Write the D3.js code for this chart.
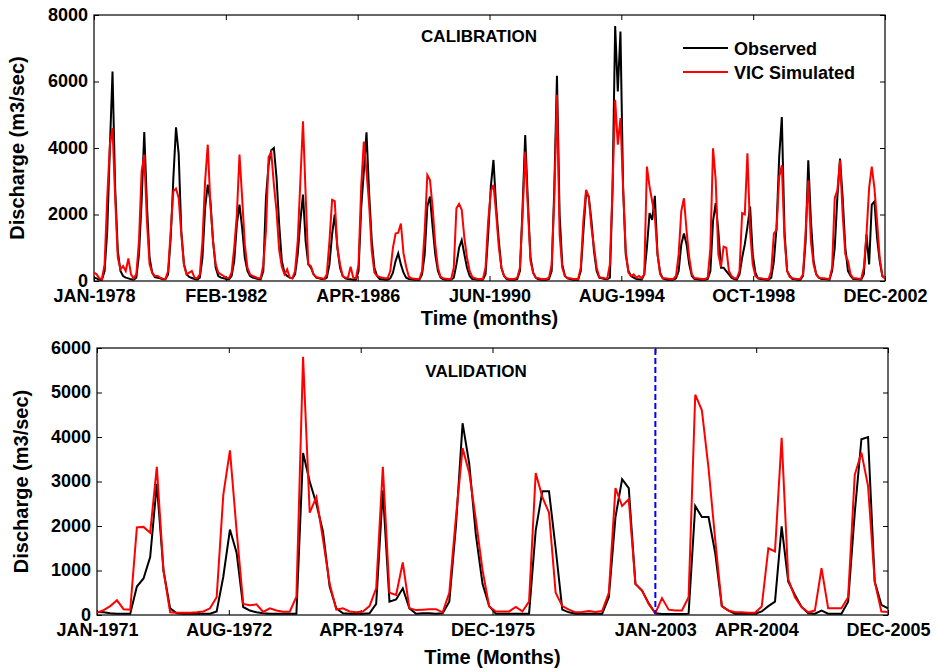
<!DOCTYPE html>
<html>
<head>
<meta charset="utf-8">
<script src="https://cdn.jsdelivr.net/npm/d3@7"></script>
<style>
  body { margin: 0; background: #fff; }
  svg text { font-family: Arial, "Liberation Sans", sans-serif; font-weight: bold; fill: #000; }
</style>
</head>
<body>
<svg id="chart" width="938" height="672"></svg>
<script>
// ---- calibration period, monthly values JAN-1978 .. DEC-2002 (m3/sec) ----
const calObserved = [
  100, 80, 40, 40, 300, 1500, 4000, 6300, 2800, 900, 300, 150,      // 1978
  100, 80, 50, 40, 100, 800, 2400, 4480, 2300, 700, 250, 120,       // 1979
  100, 80, 50, 50, 200, 1300, 3100, 4620, 3830, 1500, 500, 200,     // 1980
  120, 90, 60, 40, 100, 700, 2200, 2900, 2400, 1200, 400, 150,      // 1981
  100, 80, 60, 50, 150, 600, 1700, 2300, 1600, 700, 300, 150,       // 1982
  100, 80, 60, 50, 300, 2500, 3500, 3930, 4000, 3100, 1700, 600,    // 1983
  250, 150, 100, 80, 200, 800, 1800, 2600, 1200, 500, 400, 200,     // 1984
  100, 80, 60, 50, 100, 500, 1400, 2000, 1000, 400, 150, 80,        // 1985
  60, 50, 40, 40, 300, 2200, 3300, 4470, 2640, 1200, 400, 150,      // 1986
  60, 50, 40, 40, 80, 250, 600, 830, 500, 250, 100, 60,             // 1987
  50, 40, 40, 40, 200, 800, 2240, 2540, 1630, 800, 300, 100,        // 1988
  50, 40, 40, 40, 100, 500, 1000, 1230, 800, 400, 150, 60,          // 1989
  50, 40, 40, 40, 200, 1400, 2840, 3640, 2240, 1230, 400, 150,      // 1990
  60, 40, 40, 40, 60, 300, 2200, 4390, 2400, 700, 250, 100,         // 1991
  50, 40, 40, 40, 60, 300, 2800, 6170, 2000, 500, 150, 80,          // 1992
  60, 40, 40, 40, 300, 1500, 2640, 2540, 1840, 900, 300, 100,       // 1993
  80, 60, 50, 100, 2700, 7670, 5700, 7500, 2800, 800, 300, 150,     // 1994
  100, 60, 50, 40, 200, 1000, 2040, 1840, 2560, 800, 250, 80,       // 1995
  50, 40, 40, 40, 80, 300, 1100, 1430, 1100, 500, 150, 60,          // 1996
  50, 40, 40, 40, 60, 300, 1800, 2340, 1500, 400, 400, 300,         // 1997
  200, 100, 60, 40, 200, 700, 1100, 1630, 2240, 800, 250, 80,       // 1998
  60, 50, 40, 40, 100, 600, 1600, 3730, 4930, 1500, 300, 150,       // 1999
  60, 50, 40, 40, 150, 1200, 3630, 1800, 600, 200, 100, 60,         // 2000
  60, 50, 40, 300, 1000, 2530, 3680, 2500, 1000, 300, 150, 60,      // 2001
  60, 50, 40, 200, 1400, 500, 2300, 2390, 1300, 600, 150, 80        // 2002
];
const calSimulated = [
  250, 200, 80, 60, 500, 2500, 4100, 4600, 2500, 700, 350, 450,     // 1978
  300, 680, 200, 80, 200, 1200, 3300, 3800, 1800, 500, 250, 150,    // 1979
  150, 100, 70, 60, 300, 1500, 2700, 2780, 2500, 1400, 500, 200,    // 1980
  250, 300, 100, 80, 200, 1200, 3000, 4100, 2300, 1200, 500, 250,   // 1981
  200, 150, 100, 80, 250, 1000, 2000, 3800, 2500, 1100, 400, 200,   // 1982
  150, 120, 80, 80, 500, 1500, 3730, 3870, 2900, 2100, 930, 430,    // 1983
  200, 350, 100, 80, 300, 1200, 3000, 4800, 2600, 500, 450, 200,    // 1984
  120, 100, 80, 60, 200, 1200, 2440, 2400, 1000, 500, 150, 100,     // 1985
  100, 430, 100, 80, 500, 2840, 4190, 3300, 2300, 900, 250, 150,    // 1986
  120, 100, 80, 80, 300, 1000, 1430, 1450, 1730, 830, 430, 130,     // 1987
  80, 70, 60, 60, 300, 1500, 3190, 3040, 2200, 1100, 400, 130,      // 1988
  80, 70, 60, 60, 400, 2190, 2320, 2140, 1300, 700, 300, 120,       // 1989
  80, 60, 60, 60, 400, 1800, 2700, 2890, 2040, 1030, 400, 150,      // 1990
  80, 60, 60, 60, 100, 400, 2000, 3890, 2200, 600, 250, 100,        // 1991
  80, 60, 60, 60, 100, 500, 2500, 5600, 1400, 400, 150, 80,         // 1992
  80, 60, 60, 60, 400, 1840, 2740, 2540, 1630, 1030, 400, 120,      // 1993
  100, 80, 70, 500, 2800, 5450, 4100, 4900, 2800, 900, 250, 150,    // 1994
  200, 100, 150, 80, 200, 3440, 2840, 2400, 1940, 830, 200, 80,     // 1995
  80, 70, 60, 60, 150, 800, 2100, 2490, 1500, 700, 200, 80,         // 1996
  80, 70, 60, 60, 100, 1000, 3990, 3040, 800, 430, 1030, 1000,      // 1997
  300, 150, 80, 80, 300, 2040, 2000, 3840, 1500, 500, 150, 80,      // 1998
  80, 70, 60, 60, 300, 1430, 1530, 3130, 3480, 1300, 300, 120,      // 1999
  80, 70, 60, 60, 200, 1500, 3030, 1200, 500, 200, 100, 80,         // 2000
  80, 70, 60, 400, 2500, 2730, 3630, 2000, 800, 600, 200, 80,       // 2001
  80, 70, 60, 400, 1400, 2800, 3440, 2800, 1800, 700, 150, 80       // 2002
];
const calTickMonths = [1, 50.83, 100.67, 150.5, 200.33, 250.17, 300];
const calTickLabels = ["JAN-1978", "FEB-1982", "APR-1986", "JUN-1990", "AUG-1994", "OCT-1998", "DEC-2002"];
const calYTicks = [0, 2000, 4000, 6000, 8000];

// ---- validation period: 1971-1977 then 2003-2005, monthly ----
const valObserved = [
  70, 60, 40, 30, 30, 30, 640, 820, 1300, 2950, 1000, 150,          // 1971
  40, 30, 30, 30, 30, 30, 80, 860, 1920, 1400, 180, 100,            // 1972
  60, 40, 30, 30, 30, 30, 30, 3640, 3000, 2500, 1870, 640,          // 1973
  150, 40, 30, 30, 30, 40, 250, 2800, 300, 350, 600, 150,           // 1974
  30, 40, 40, 30, 40, 300, 2000, 4310, 3400, 1800, 700, 200,        // 1975
  30, 30, 30, 30, 30, 30, 1900, 2780, 2780, 1500, 120, 60,          // 1976
  30, 30, 30, 30, 30, 400, 2200, 3050, 2850, 700, 550, 260,         // 1977
  40, 20, 20, 20, 20, 30, 2450, 2200, 2200, 1400, 200, 100,         // 2003
  30, 30, 30, 30, 80, 200, 300, 1990, 750, 450, 180, 40,            // 2004
  30, 100, 30, 30, 30, 300, 2300, 3950, 4000, 750, 230, 150         // 2005
];
const valSimulated = [
  50, 110, 200, 330, 130, 120, 1970, 1980, 1850, 3330, 1000, 60,    // 1971
  50, 50, 50, 60, 80, 150, 400, 2700, 3700, 1900, 250, 220,         // 1972
  240, 70, 150, 100, 75, 75, 410, 5800, 2300, 2650, 1700, 700,      // 1973
  120, 150, 80, 60, 80, 200, 600, 3330, 500, 450, 1180, 150,        // 1974
  110, 120, 130, 130, 60, 500, 2200, 3750, 3190, 2140, 1010, 190,   // 1975
  80, 80, 80, 180, 80, 300, 3190, 2650, 2300, 500, 200, 120,        // 1976
  60, 70, 90, 70, 90, 500, 2850, 2450, 2600, 700, 550, 250,         // 1977
  40, 380, 120, 100, 100, 400, 4950, 4600, 3300, 1700, 200, 100,    // 2003
  60, 60, 50, 50, 190, 1500, 1430, 3980, 800, 400, 180, 60,         // 2004
  100, 1050, 150, 150, 150, 400, 3150, 3650, 2900, 750, 80, 70      // 2005
];
const valTickMonths = [1, 20.83, 40.67, 60.5, 85, 100.17, 120];
const valTickLabels = ["JAN-1971", "AUG-1972", "APR-1974", "DEC-1975", "JAN-2003", "APR-2004", "DEC-2005"];
const valYTicks = [0, 1000, 2000, 3000, 4000, 5000, 6000];
const splitMonth = 85;   // JAN-2003, start of second validation block

const svg = d3.select("#chart");

function drawPanel(p) {
  const x = d3.scaleLinear().domain([1, p.observed.length]).range([p.left, p.right]);
  const y = d3.scaleLinear().domain([0, p.yMax]).range([p.bottom, p.top]);

  // bottom axis with labels, ticks pointing inward
  const gx = svg.append("g")
    .attr("transform", `translate(0,${p.bottom})`)
    .call(d3.axisBottom(x).tickValues(p.tickMonths)
      .tickFormat((d, i) => p.tickLabels[i])
      .tickSizeInner(-5).tickSizeOuter(0).tickPadding(8));
  gx.select(".domain").remove();
  gx.selectAll("text").style("font-size", "18px");

  const gt = svg.append("g")
    .attr("transform", `translate(0,${p.top})`)
    .call(d3.axisTop(x).tickValues(p.tickMonths).tickFormat("").tickSizeInner(-5).tickSizeOuter(0));
  gt.select(".domain").remove();

  const gy = svg.append("g")
    .attr("transform", `translate(${p.left},0)`)
    .call(d3.axisLeft(y).tickValues(p.yTicks).tickFormat(d3.format("d"))
      .tickSizeInner(-5).tickSizeOuter(0).tickPadding(6));
  gy.select(".domain").remove();
  gy.selectAll("text").style("font-size", "18px").attr("dy", "0.3em");

  const gr = svg.append("g")
    .attr("transform", `translate(${p.right},0)`)
    .call(d3.axisRight(y).tickValues(p.yTicks).tickFormat("").tickSizeInner(-5).tickSizeOuter(0));
  gr.select(".domain").remove();

  // frame
  svg.append("rect")
    .attr("x", p.left).attr("y", p.top)
    .attr("width", p.right - p.left).attr("height", p.bottom - p.top)
    .attr("fill", "none").attr("stroke", "#000").attr("stroke-width", 1.2);

  const line = d3.line().x((d, i) => x(i + 1)).y(d => y(d));

  svg.append("path").datum(p.observed)
    .attr("d", line).attr("fill", "none")
    .attr("stroke", "#000").attr("stroke-width", 2);
  svg.append("path").datum(p.simulated)
    .attr("d", line).attr("fill", "none")
    .attr("stroke", "#ff0000").attr("stroke-width", 2);

  // titles
  svg.append("text")
    .attr("x", p.titleX).attr("y", p.titleY)
    .attr("text-anchor", "middle").style("font-size", "17px")
    .text(p.title);
  svg.append("text")
    .attr("x", (p.left + p.right) / 2).attr("y", p.xTitleY)
    .attr("text-anchor", "middle").style("font-size", "20px")
    .text(p.xTitle);
  svg.append("text")
    .attr("transform", `translate(${p.yTitleX},${(p.top + p.bottom) / 2}) rotate(-90)`)
    .attr("text-anchor", "middle").style("font-size", "20px")
    .text("Discharge (m3/sec)");

  return { x, y };
}

// top panel: calibration
drawPanel({
  left: 94, right: 885, top: 15, bottom: 281,
  observed: calObserved, simulated: calSimulated, yMax: 8000,
  tickMonths: calTickMonths, tickLabels: calTickLabels, yTicks: calYTicks,
  title: "CALIBRATION", titleX: 479, titleY: 42,
  xTitle: "Time (months)", xTitleY: 325, yTitleX: 24
});

// legend
const legend = [
  { name: "Observed", color: "#000", y: 48 },
  { name: "VIC Simulated", color: "#ff0000", y: 72 }
];
legend.forEach(l => {
  svg.append("line")
    .attr("x1", 683).attr("x2", 728).attr("y1", l.y).attr("y2", l.y)
    .attr("stroke", l.color).attr("stroke-width", 2);
  svg.append("text")
    .attr("x", 734).attr("y", l.y + 7)
    .style("font-size", "18px")
    .text(l.name);
});

// bottom panel: validation
const v = drawPanel({
  left: 97, right: 888, top: 348, bottom: 615,
  observed: valObserved, simulated: valSimulated, yMax: 6000,
  tickMonths: valTickMonths, tickLabels: valTickLabels, yTicks: valYTicks,
  title: "VALIDATION", titleX: 476, titleY: 377,
  xTitle: "Time (Months)", xTitleY: 664, yTitleX: 28
});

// split between the two validation blocks
svg.append("line")
  .attr("x1", v.x(splitMonth)).attr("x2", v.x(splitMonth))
  .attr("y1", 349).attr("y2", 614)
  .attr("stroke", "#0000ff").attr("stroke-width", 2)
  .attr("stroke-dasharray", "6,3");
</script>
</body>
</html>
